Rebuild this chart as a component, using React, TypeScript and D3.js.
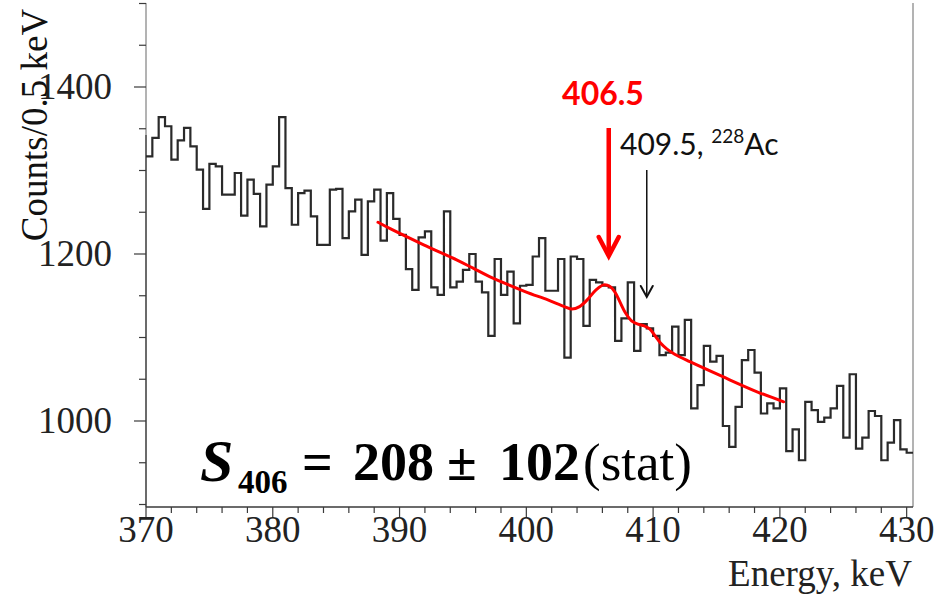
import React from "react";
import * as d3 from "d3";

// Histogram: counts per 0.5 keV bin, first bin starts at 370 keV
const binStart = 370;
const binWidth = 0.5;
const counts = [
  1317, 1339, 1364, 1353, 1313, 1336, 1351, 1329, 1301, 1254,
  1308, 1305, 1271, 1271, 1297, 1246, 1289, 1272, 1233, 1283,
  1305, 1364, 1279, 1235, 1273, 1276, 1245, 1211, 1211, 1277,
  1278, 1219, 1251, 1265, 1199, 1263, 1277, 1216, 1273, 1242,
  1223, 1182, 1157, 1220, 1227, 1160, 1151, 1251, 1160, 1167,
  1181, 1200, 1167, 1154, 1102, 1194, 1151, 1179, 1117, 1162,
  1163, 1197, 1219, 1156, 1156, 1194, 1076, 1197, 1194, 1114,
  1169, 1166, 1162, 1160, 1096, 1123, 1166, 1084, 1116, 1111,
  1102, 1079, 1082, 1113, 1079, 1121, 1015, 1043, 1090, 1071,
  1078, 994, 969, 1017, 1073, 1085, 1058, 1009, 1021, 1015,
  1039, 964, 990, 953, 1023, 1013, 999, 1004, 1015, 1042,
  980, 1056, 967, 980, 1012, 1006, 953, 974, 1001, 966,
  962,
];

// Fit curve: linear background with the 406.5 keV peak and the 409.5 keV shoulder
const fitEnergy = [
  388.3, 389.3, 391.9, 394.5, 395.8, 397.1, 399.9, 401.7, 403.0, 403.6,
  404.2, 404.8, 405.5, 406.1, 406.6, 407.0, 407.4, 407.8, 408.3, 408.8,
  409.3, 409.75, 410.2, 410.6, 411.1, 411.7, 412.9, 415.5, 418.2, 420.3,
];
const fitCounts = [
  1238, 1230, 1211, 1193, 1183, 1173, 1155, 1145, 1137, 1134,
  1137, 1145, 1157, 1163, 1161, 1154, 1142, 1130, 1120, 1116,
  1114, 1110, 1101, 1093, 1086, 1080, 1071, 1053, 1035, 1023,
];

const xMajorTicks = [370, 380, 390, 400, 410, 420, 430];
const xMinorStep = 2;
const yMajorTicks = [1000, 1200, 1400];
const yMinorStep = 50;

const peakEnergy = 406.5;
const acEnergy = 409.5;

const W = 937;
const H = 596;
const frame = { left: 146, right: 913, top: 3, bottom: 507 };
const serif = "'Liberation Serif', 'Times New Roman', serif";
const sans = "Lato, 'Open Sans', sans-serif";

export default function App() {
  const xDomainEnd = binStart + counts.length * binWidth;
  const x = d3.scaleLinear().domain([binStart, xDomainEnd]).range([frame.left, frame.right]);
  const y = d3.scaleLinear().domain([897, 1500]).range([frame.bottom, frame.top + 0.5]);

  const histPoints: [number, number][] = counts.map((c, i) => [binStart + i * binWidth, c]);
  histPoints.push([xDomainEnd, counts[counts.length - 1]]);
  const histPath = d3
    .line<[number, number]>()
    .x((d) => x(d[0]))
    .y((d) => y(d[1]))
    .curve(d3.curveStepAfter)(histPoints) as string;

  const fitPath = d3
    .line<number>()
    .x((e) => x(e))
    .y((_, i) => y(fitCounts[i]))
    .curve(d3.curveCatmullRom.alpha(0.5))(fitEnergy) as string;

  const xMinor = d3.range(370, 430.01, xMinorStep).filter((t) => !xMajorTicks.includes(t));
  const yMinor = d3
    .range(900, 1500.01, yMinorStep)
    .filter((t) => !yMajorTicks.includes(t));

  const axisColor = "#3a3a3a";
  const px = x(peakEnergy);
  const ax = x(acEnergy);

  return (
    <svg
      width={W}
      height={H}
      viewBox={`0 0 ${W} ${H}`}
      style={{ position: "absolute", left: 0, top: 0, background: "#fff" }}
    >
      {/* frame */}
      <line x1={frame.left} x2={frame.left} y1={frame.top} y2={135} stroke="#9a9a9a" strokeWidth={1.5} />
      <line x1={frame.left} x2={frame.left} y1={135} y2={frame.bottom} stroke={axisColor} strokeWidth={1.5} />
      <line x1={frame.right} x2={frame.right} y1={frame.top} y2={frame.bottom} stroke="#9a9a9a" strokeWidth={1.5} />
      <line x1={frame.left} x2={frame.right} y1={frame.bottom} y2={frame.bottom} stroke={axisColor} strokeWidth={1.5} />

      {/* y ticks */}
      {yMajorTicks.map((t) => (
        <g key={`ym${t}`}>
          <line x1={frame.left - 12} x2={frame.left} y1={y(t)} y2={y(t)} stroke={axisColor} strokeWidth={1.2} />
          <text
            x={112}
            y={y(t) + 12}
            textAnchor="end"
            fontFamily={serif}
            fontSize={37}
            fill="#222"
          >
            {t}
          </text>
        </g>
      ))}
      {yMinor.map((t) => (
        <line key={`yn${t}`} x1={frame.left - 7} x2={frame.left} y1={y(t)} y2={y(t)} stroke={axisColor} strokeWidth={1.2} />
      ))}

      {/* x ticks */}
      {xMajorTicks.map((t) => (
        <g key={`xm${t}`}>
          <line x1={x(t)} x2={x(t)} y1={frame.bottom} y2={frame.bottom + 11} stroke={axisColor} strokeWidth={1.2} />
          <text x={x(t)} y={542} textAnchor="middle" fontFamily={serif} fontSize={37} fill="#222">
            {t}
          </text>
        </g>
      ))}
      {xMinor.map((t) => (
        <line key={`xn${t}`} x1={x(t)} x2={x(t)} y1={frame.bottom} y2={frame.bottom + 6} stroke={axisColor} strokeWidth={1.2} />
      ))}

      {/* axis titles */}
      <text x={912} y={586} textAnchor="end" fontFamily={serif} fontSize={37} fill="#222">
        Energy, keV
      </text>
      <text
        transform="translate(47,125) rotate(-90)"
        textAnchor="middle"
        fontFamily={serif}
        fontSize={37}
        fill="#111"
      >
        Counts/0.5 keV
      </text>

      {/* histogram */}
      <path d={histPath} fill="none" stroke="#2a2a2a" strokeWidth={2.2} strokeLinejoin="miter" />

      {/* fit */}
      <path d={fitPath} fill="none" stroke="#ff0000" strokeWidth={3} strokeLinecap="round" />

      {/* 406.5 keV marker */}
      <text x={603} y={105} textAnchor="middle" fontFamily={sans} fontWeight={700} fontSize={32} fill="#ff0000">
        406.5
      </text>
      <line x1={px} x2={px} y1={128} y2={256} stroke="#ff0000" strokeWidth={4.5} />
      <polyline
        points={`${px - 10},${237} ${px},${256} ${px + 10},${237}`}
        fill="none"
        stroke="#ff0000"
        strokeWidth={4.5}
        strokeLinecap="round"
        strokeLinejoin="miter"
      />

      {/* 409.5 keV marker */}
      <text x={620} y={155} fontFamily={sans} fontSize={30} fill="#111">
        409.5,{" "}
        <tspan fontSize={19} dy={-12}>
          228
        </tspan>
        <tspan dy={12}>Ac</tspan>
      </text>
      <line x1={ax} x2={ax} y1={170} y2={296} stroke="#111" strokeWidth={1.5} />
      <polyline
        points={`${ax - 6},${286} ${ax},${297} ${ax + 6},${286}`}
        fill="none"
        stroke="#111"
        strokeWidth={2}
        strokeLinecap="round"
      />

      {/* signal estimate */}
      <text fontFamily={serif} fill="#000">
        <tspan x={200} y={481} fontSize={60} fontWeight={700} fontStyle="italic">
          S
        </tspan>
        <tspan x={238} y={493} fontSize={33} fontWeight={700}>
          406
        </tspan>
        <tspan x={302} y={480} fontSize={54} fontWeight={700}>
          =
        </tspan>
        <tspan x={353} y={480} fontSize={54} fontWeight={700}>
          208
        </tspan>
        <tspan x={447} y={480} fontSize={54} fontWeight={700}>
          ±
        </tspan>
        <tspan x={499} y={480} fontSize={54} fontWeight={700}>
          102
        </tspan>
        <tspan x={583} y={480} fontSize={53}>
          (stat)
        </tspan>
      </text>
    </svg>
  );
}
